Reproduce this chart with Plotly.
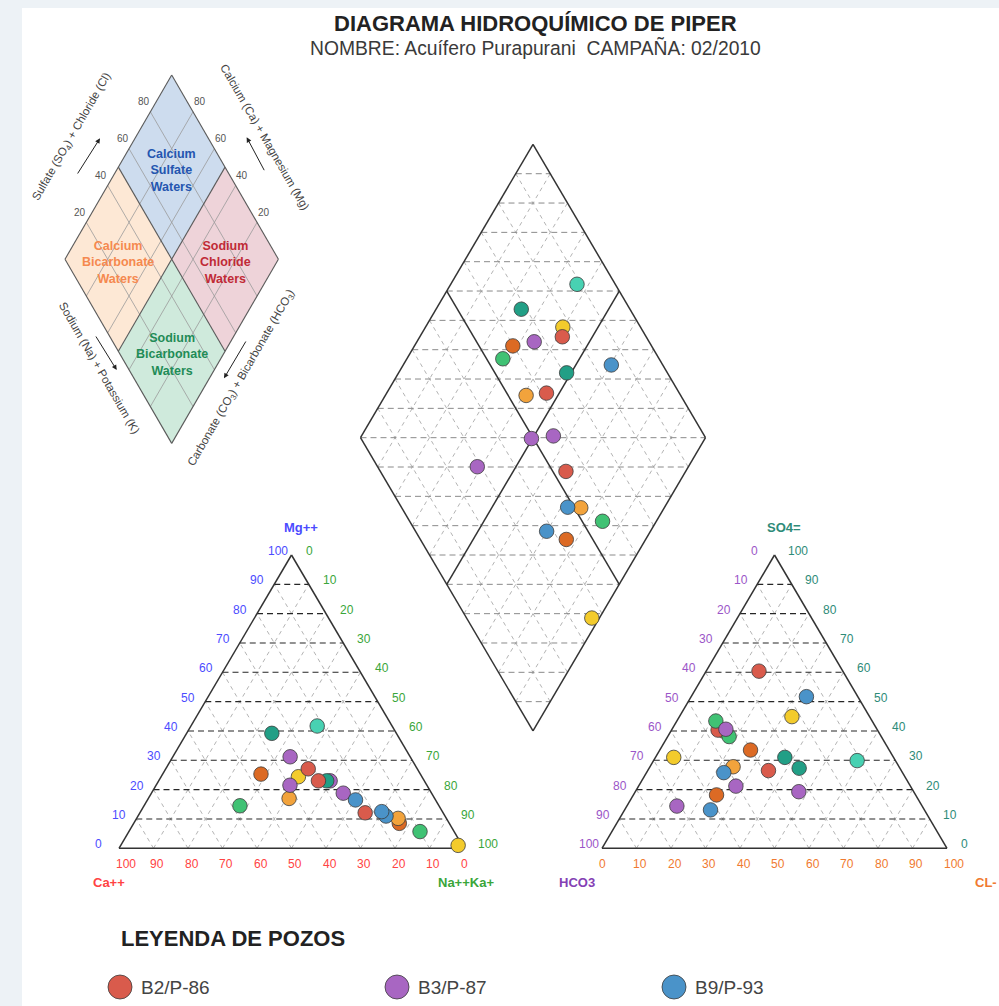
import plotly.graph_objects as go

FIG_W, FIG_H = 999, 1006
FONT = "Liberation Sans, Arial, Helvetica, sans-serif"

# ---------------------------------------------------------------
# Wells (legend order) and their colours
# ---------------------------------------------------------------
wells = ["B2/P-86", "B3/P-87", "B9/P-93", "Pozo 4", "Pozo 5",
         "Pozo 6", "Pozo 7", "Pozo 8", "Pozo 9"]
well_colors = ["#d95b4c", "#a866c2", "#4a93c9", "#dc6a24", "#f2a33c",
               "#f3cb2c", "#40c274", "#229f86", "#48d1b2"]

# ---------------------------------------------------------------
# Samples: percentage of meq/L (later rows are drawn on top)
# ---------------------------------------------------------------
sample_well = [4, 0, 6, 3, 6, 1, 3, 4, 1, 7, 2, 2, 5, 0, 0, 1, 1, 2, 7, 8, 5]
ca   = [42.2, 22.6, 57.7, 46.2, 9.9, 25.6, 14.5, 14.0, 27.3, 28.3, 17.1,
        17.6, 35.8, 31.6, 30.7, 34.8, 39.7, 23.2, 36.1, 21.7, 1.2]
mg   = [17.0, 12.1, 14.5, 25.3, 5.7, 18.8, 8.5, 10.2, 23.0, 23.0, 11.0,
        12.5, 24.4, 27.1, 23.0, 31.2, 21.5, 16.5, 39.2, 41.7, 1.0]
na_k = [40.8, 65.3, 27.8, 28.5, 84.4, 55.6, 77.0, 75.8, 49.7, 48.7, 71.9,
        69.9, 39.8, 41.3, 46.3, 34.0, 38.8, 60.3, 24.7, 36.6, 97.8]
hco3 = [44.8, 46.2, 45.3, 40.2, 44.1, 43.8, 57.7, 48.1, 50.6, 29.2, 51.8,
        62.0, 22.5, 24.3, 38.5, 33.3, 71.1, 14.9, 31.5, 11.1, 63.7]
so4  = [40.0, 40.3, 43.4, 33.5, 38.1, 40.6, 18.2, 27.8, 21.2, 27.3, 25.8,
        13.1, 44.9, 60.4, 26.5, 19.3, 14.4, 51.7, 31.0, 29.9, 31.0]
cl   = [15.2, 13.5, 11.3, 26.3, 17.8, 15.6, 24.1, 24.1, 28.2, 43.5, 22.4,
        24.9, 32.6, 15.3, 35.0, 47.4, 14.5, 33.4, 37.5, 59.0, 5.3]

tick_values = [0, 10, 20, 30, 40, 50, 60, 70, 80, 90, 100]
inset_ticks = [20, 40, 60, 80]

# ---------------------------------------------------------------
# Piper frame: unit = triangle side (x) / triangle height (y)
# ---------------------------------------------------------------
GAP = 0.4
ORIGIN_PX = (119.0, 848.3)
SIDE_PX = 345.0
HEIGHT_PX = 293.3
x_range = [-ORIGIN_PX[0] / SIDE_PX, (FIG_W - ORIGIN_PX[0]) / SIDE_PX]
y_range = [(ORIGIN_PX[1] - FIG_H) / HEIGHT_PX, ORIGIN_PX[1] / HEIGHT_PX]

R0 = 1 + GAP                       # left corner of the anion triangle
DL = (0.5 + GAP / 2, 1 + GAP)      # left vertex of the diamond


def cation_uv(c, m, n):
    return n / 100 + m / 200, m / 100


def anion_uv(h, s, c):
    return R0 + c / 100 + s / 200, s / 100


def dpt(s, n):
    return DL[0] + 0.5 * (s + n), DL[1] + s - n


def diamond_uv(n, s4, c):
    return dpt((s4 + c) / 100, n / 100)


def seg_trace(segs, color, width, dash, xa="x", ya="y"):
    xs, ys = [], []
    for (x0, y0), (x1, y1) in segs:
        xs += [x0, x1, None]
        ys += [y0, y1, None]
    return go.Scatter(x=xs, y=ys, mode="lines", xaxis=xa, yaxis=ya,
                      line=dict(color=color, width=width, dash=dash),
                      hoverinfo="skip", showlegend=False)


fig = go.Figure()

# --- triangle grids
tri_h, tri_d = [], []
for u0 in (0.0, R0):
    for k in range(1, 10):
        f = k / 10
        tri_h.append(((u0 + f / 2, f), (u0 + 1 - f / 2, f)))
        tri_d.append(((u0 + f, 0), (u0 + f + (1 - f) / 2, 1 - f)))
        tri_d.append(((u0 + f, 0), (u0 + f / 2, f)))

# --- diamond grid
dia_d, dia_h = [], []
for k in range(1, 10):
    if k == 5:
        continue
    f = k / 10
    dia_d.append((dpt(f, 0), dpt(f, 1)))
    dia_d.append((dpt(0, f), dpt(1, f)))
uc = 1 + GAP / 2
for k in range(1, 20):
    v = GAP + k / 10
    hw = 0.5 * min(v - GAP, 2 + GAP - v)
    dia_h.append(((uc - hw, v), (uc + hw, v)))

fig.add_trace(seg_trace(tri_d + dia_d, "#b4b4b4", 1, "4px,4px"))
fig.add_trace(seg_trace(dia_h, "#8a8a8a", 1, "6px,4px"))
fig.add_trace(seg_trace(tri_h, "#262626", 1.1, "6px,4px"))

outline = [
    ((0, 0), (1, 0)), ((1, 0), (0.5, 1)), ((0.5, 1), (0, 0)),
    ((R0, 0), (R0 + 1, 0)), ((R0 + 1, 0), (R0 + 0.5, 1)), ((R0 + 0.5, 1), (R0, 0)),
    (dpt(0, 0), dpt(1, 0)), (dpt(1, 0), dpt(1, 1)),
    (dpt(1, 1), dpt(0, 1)), (dpt(0, 1), dpt(0, 0)),
    (dpt(0.5, 0), dpt(0.5, 1)), (dpt(0, 0.5), dpt(1, 0.5)),
]
fig.add_trace(seg_trace(outline, "#333333", 1.5, "solid"))

# --- samples
pt_colors = [well_colors[w] for w in sample_well]
pt_names = [wells[w] for w in sample_well]
marker = dict(size=14.5, color=pt_colors,
              line=dict(color="rgba(60,60,60,0.8)", width=1))
cat = [cation_uv(a, b, c) for a, b, c in zip(ca, mg, na_k)]
ani = [anion_uv(a, b, c) for a, b, c in zip(hco3, so4, cl)]
dia = [diamond_uv(a, b, c) for a, b, c in zip(na_k, so4, cl)]
for name, pts in (("Cationes", cat), ("Aniones", ani), ("Diamante", dia)):
    fig.add_trace(go.Scatter(
        x=[p[0] for p in pts], y=[p[1] for p in pts], mode="markers",
        marker=marker, name=name, text=pt_names, hoverinfo="text",
        cliponaxis=False, showlegend=False))

# --- triangle tick labels
MG_C, NA_C, CA_C = "#4b4bff", "#3aa63a", "#ff4343"
HC_C, SO_C, CL_C = "#9b55c8", "#2e8b78", "#f07a30"


def ann(x, y, text, color, xs=0, ys=0, size=12, xanchor="left",
        xref="x", yref="y", angle=0):
    fig.add_annotation(x=x, y=y, xref=xref, yref=yref, text=text,
                       showarrow=False, xanchor=xanchor, yanchor="middle",
                       xshift=xs, yshift=ys, textangle=angle,
                       font=dict(family=FONT, size=size, color=color))


for i, t in enumerate(tick_values):
    f = t / 100
    ann(f / 2, f, str(t), MG_C, -26, 4)
    ann(1 - f / 2, f, str(100 - t), NA_C, 12, 4)
    ann(f, 0, str(100 - t), CA_C, -5.5, -15.7)
    ann(R0 + f / 2, f, str(100 - t), HC_C, -25.5, 4)
    ann(R0 + 1 - f / 2, f, str(t), SO_C, 11.5, 4)
    ann(R0 + f, 0, str(t), CL_C, -5.5, -15.7)

ann(0.5, 1, "<b>Mg++</b>", MG_C, 9, 27.5, 13, "center")
ann(0, 0, "<b>Ca++</b>", CA_C, -10, -34.4, 13, "center")
ann(1, 0, "<b>Na++Ka+</b>", NA_C, 2, -34.4, 13, "center")
ann(R0 + 0.5, 1, "<b>SO4=</b>", SO_C, 9.5, 27.5, 13, "center")
ann(R0, 0, "<b>HCO3</b>", "#8440b4", -25, -34.4, 13, "center")
ann(R0 + 1, 0, "<b>CL-</b>", CL_C, 39, -34.4, 13, "center")

# ---------------------------------------------------------------
# Classification inset (pixel coordinates on x2/y2)
# ---------------------------------------------------------------
ICX, ICY, IHW, IHH = 171.7, 259.2, 106.7, 184.2


def ipt(s, n):
    return ICX - IHW + IHW * (s + n), ICY - IHH * s + IHH * n


shapes = [dict(type="rect", xref="x2", yref="y2", x0=22, x1=FIG_W + 1,
               y0=8, y1=FIG_H + 1, fillcolor="white", line=dict(width=0),
               layer="below")]
regions = [
    ((0.5, 1.0, 0.0, 0.5), "#cddcee", "Calcium<br>Sulfate<br>Waters", "#2456b0"),
    ((0.0, 0.5, 0.0, 0.5), "#fde8d5", "Calcium<br>Bicarbonate<br>Waters", "#f5894f"),
    ((0.5, 1.0, 0.5, 1.0), "#eed3d9", "Sodium<br>Chloride<br>Waters", "#c02a36"),
    ((0.0, 0.5, 0.5, 1.0), "#cfeadc", "Sodium<br>Bicarbonate<br>Waters", "#1f8c57"),
]
for (s0, s1, n0, n1), fill, label, tcol in regions:
    corners = [ipt(s0, n0), ipt(s1, n0), ipt(s1, n1), ipt(s0, n1)]
    path = "M " + " L ".join(f"{x:.2f},{y:.2f}" for x, y in corners) + " Z"
    shapes.append(dict(type="path", path=path, xref="x2", yref="y2",
                       fillcolor=fill, line=dict(width=0), layer="below"))
    cx, cy = ipt((s0 + s1) / 2, (n0 + n1) / 2)
    ann(cx, cy, f"<b>{label}</b>", tcol, 0, -3, 12.5, "center", "x2", "y2")

inset_grid = []
for t in inset_ticks:
    f = t / 100
    inset_grid.append((ipt(f, 0), ipt(f, 1)))
    inset_grid.append((ipt(0, f), ipt(1, f)))
fig.add_trace(seg_trace(inset_grid, "#9a9a9a", 0.8, "solid", "x2", "y2"))
inset_frame = [(ipt(0, 0), ipt(1, 0)), (ipt(1, 0), ipt(1, 1)),
               (ipt(1, 1), ipt(0, 1)), (ipt(0, 1), ipt(0, 0)),
               (ipt(0.5, 0), ipt(0.5, 1)), (ipt(0, 0.5), ipt(1, 0.5))]
fig.add_trace(seg_trace(inset_frame, "#5a5a5a", 1.1, "solid", "x2", "y2"))

for t in inset_ticks:
    f = t / 100
    x, y = ipt(f, 0)
    ann(x - 6.5, y - 10, str(t), "#555555", 0, 0, 10, "center", "x2", "y2")
    x, y = ipt(1, 1 - f)
    ann(x + 6.5, y - 10, str(t), "#555555", 0, 0, 10, "center", "x2", "y2")

ax_titles = [
    (71.7, 136.7, -60, "Sulfate (SO<sub>4</sub>) + Chloride (Cl)"),
    (265.0, 136.7, 60, "Calcium (Ca) + Magnesium (Mg)"),
    (99.2, 368.3, 60, "Sodium (Na) + Potassium (K)"),
    (241.7, 378.3, -60, "Carbonate (CO<sub>3</sub>) + Bicarbonate (HCO<sub>3</sub>)"),
]
for x, y, a, t in ax_titles:
    ann(x, y, t, "#444444", 0, 0, 11.5, "center", "x2", "y2", a)

arrows = [((76.7, 175.0), (100.0, 138.3)), ((265.0, 171.7), (246.7, 137.3)),
          ((95.0, 335.0), (116.7, 370.0)), ((246.7, 340.0), (224.0, 378.3))]
for (tx, ty), (hx, hy) in arrows:
    fig.add_annotation(x=hx, y=hy, ax=tx, ay=ty, xref="x2", yref="y2",
                       axref="x2", ayref="y2", text="", showarrow=True,
                       arrowhead=2, arrowsize=1, arrowwidth=1,
                       arrowcolor="#222222", standoff=0)

# ---------------------------------------------------------------
# Titles and legend
# ---------------------------------------------------------------
ann(535, 23, "<b>DIAGRAMA HIDROQUÍMICO DE PIPER</b>", "#222222", 0, 0, 22,
    "center", "x2", "y2")
ann(535, 48, "NOMBRE: Acuífero Purapurani\u00a0 CAMPAÑA: 02/2010", "#3a3a3a",
    0, 0, 19.3, "center", "x2", "y2")
ann(119, 938.3, "<b>LEYENDA DE POZOS</b>", "#222222", 0, 0, 22, "left",
    "x2", "y2")

leg_x = [120 + 277 * (i % 3) for i in range(len(wells))]
leg_y = [987 + 50 * (i // 3) for i in range(len(wells))]
fig.add_trace(go.Scatter(
    x=leg_x, y=leg_y, xaxis="x2", yaxis="y2", mode="markers",
    marker=dict(size=24, color=well_colors,
                line=dict(color="rgba(60,60,60,0.8)", width=1)),
    hoverinfo="skip", showlegend=False))
for x, y, name in zip(leg_x, leg_y, wells):
    if y < FIG_H:
        ann(x + 19, y, name, "#444444", 0, 0, 19, "left", "x2", "y2")

fig.update_layout(
    width=FIG_W, height=FIG_H, autosize=False,
    margin=dict(l=0, r=0, t=0, b=0),
    paper_bgcolor="#edf2f6", plot_bgcolor="rgba(0,0,0,0)",
    showlegend=False, shapes=shapes,
    xaxis=dict(range=x_range, visible=False, fixedrange=True),
    yaxis=dict(range=y_range, visible=False, fixedrange=True),
    xaxis2=dict(range=[0, FIG_W], overlaying="x", visible=False, fixedrange=True),
    yaxis2=dict(range=[FIG_H, 0], overlaying="y", visible=False, fixedrange=True),
)

fig.write_html("out.html", config={"displayModeBar": False})
